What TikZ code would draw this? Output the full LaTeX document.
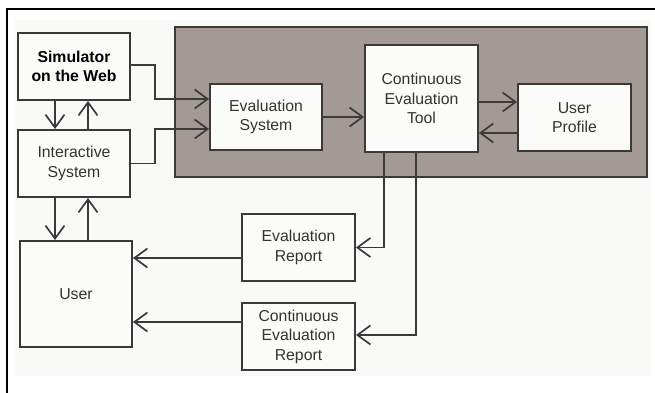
\documentclass[tikz,border=0pt]{standalone}
\usepackage{fontspec}
\setmainfont{Liberation Sans}
\usetikzlibrary{arrows.meta,calc}
\definecolor{bgc}{HTML}{F9F9F7}
\definecolor{grayc}{HTML}{A39A95}
\definecolor{linec}{HTML}{3A3A3A}
\definecolor{textc}{HTML}{333333}
\definecolor{boxc}{HTML}{FBFBF9}
\tikzset{
  box/.style={draw=linec, line width=1.9pt, fill=boxc, inner sep=0pt, align=center,
    text=textc, font=\fontsize{15.8}{19.5}\selectfont},
  conn/.style={draw=linec, line width=1.7pt},
  arr/.style={conn, -{Straight Barb[length=13pt,width=19pt,line width=1.7pt]}},
}
\begin{document}
\begin{tikzpicture}[x=1pt,y=-1pt]
\useasboundingbox (0,0) rectangle (655,393);
\fill[bgc] (15,20) rectangle (651,376);
\draw[black, line width=2.5pt] (7,393) -- (7,9) -- (655,9);
\draw[draw=linec, line width=1.9pt, fill=grayc] (175,27) rectangle (647,177);
\node[box, minimum width=112pt, minimum height=67pt, text=black, font=\fontsize{15.8}{19.5}\selectfont\bfseries] (sim) at (74,66.5) {Simulator\\on the Web};
\node[box, minimum width=112pt, minimum height=67pt] (inter) at (74,163.5) {Interactive\\System};
\node[box, minimum width=112pt, minimum height=106pt] (user) at (76,294) {User};
\node[box, minimum width=112pt, minimum height=66pt] (eval) at (266,117) {Evaluation\\System};
\node[box, minimum width=113pt, minimum height=107pt] (cet) at (421.5,98.5) {Continuous\\Evaluation\\Tool};
\node[box, minimum width=113pt, minimum height=67pt] (up) at (574.5,117.5) {User\\Profile};
\node[box, minimum width=113pt, minimum height=67pt] (er) at (298.5,247.5) {Evaluation\\Report};
\node[box, minimum width=113pt, minimum height=67pt] (cer) at (298.5,336.5) {Continuous\\Evaluation\\Report};
% sim <-> inter
\draw[arr] ([xshift=-19pt]sim.south) -- ([xshift=-19pt]sim.south |- inter.north);
\draw[arr] ([xshift=14pt]inter.north) -- ([xshift=14pt]inter.north |- sim.south);
% inter <-> user
\draw[arr] ([xshift=-19pt]inter.south) -- ([xshift=-19pt]inter.south |- user.north);
\draw[arr] ([xshift=14pt]inter.south |- user.north) -- ([xshift=14pt]inter.south);
% to eval
\coordinate (jx) at (155,0);
\draw[arr] ([yshift=1.5pt]sim.east) -- ([yshift=1.5pt]sim.east -| jx) -- ([yshift=18pt]eval.west -| jx) -- ([yshift=18pt]eval.west);
\draw[arr] (inter.east) -- (inter.east -| jx) -- ([yshift=-12pt]eval.west -| jx) -- ([yshift=-12pt]eval.west);
% eval -> cet
\draw[arr] (eval.east) -- (eval.east -| cet.west);
% cet <-> up
\draw[arr] ([yshift=15.5pt]up.west -| cet.east) -- ([yshift=15.5pt]up.west);
\draw[arr] ([yshift=-15.5pt]up.west) -- ([yshift=-15.5pt]up.west -| cet.east);
% cet -> reports
\draw[arr] ([xshift=-37.5pt]cet.south) -- ([xshift=-37.5pt]cet.south |- er.east) -- (er.east);
\draw[arr] ([xshift=-5.5pt]cet.south) -- ([xshift=-5.5pt,yshift=1.5pt]cet.south |- cer.east) -- ([yshift=1.5pt]cer.east);
% reports -> user
\draw[arr] ([yshift=-10.5pt]er.west) -- ([yshift=-10.5pt]er.west -| user.east);
\draw[arr] ([yshift=14.5pt]cer.west) -- ([yshift=14.5pt]cer.west -| user.east);
\end{tikzpicture}
\end{document}
